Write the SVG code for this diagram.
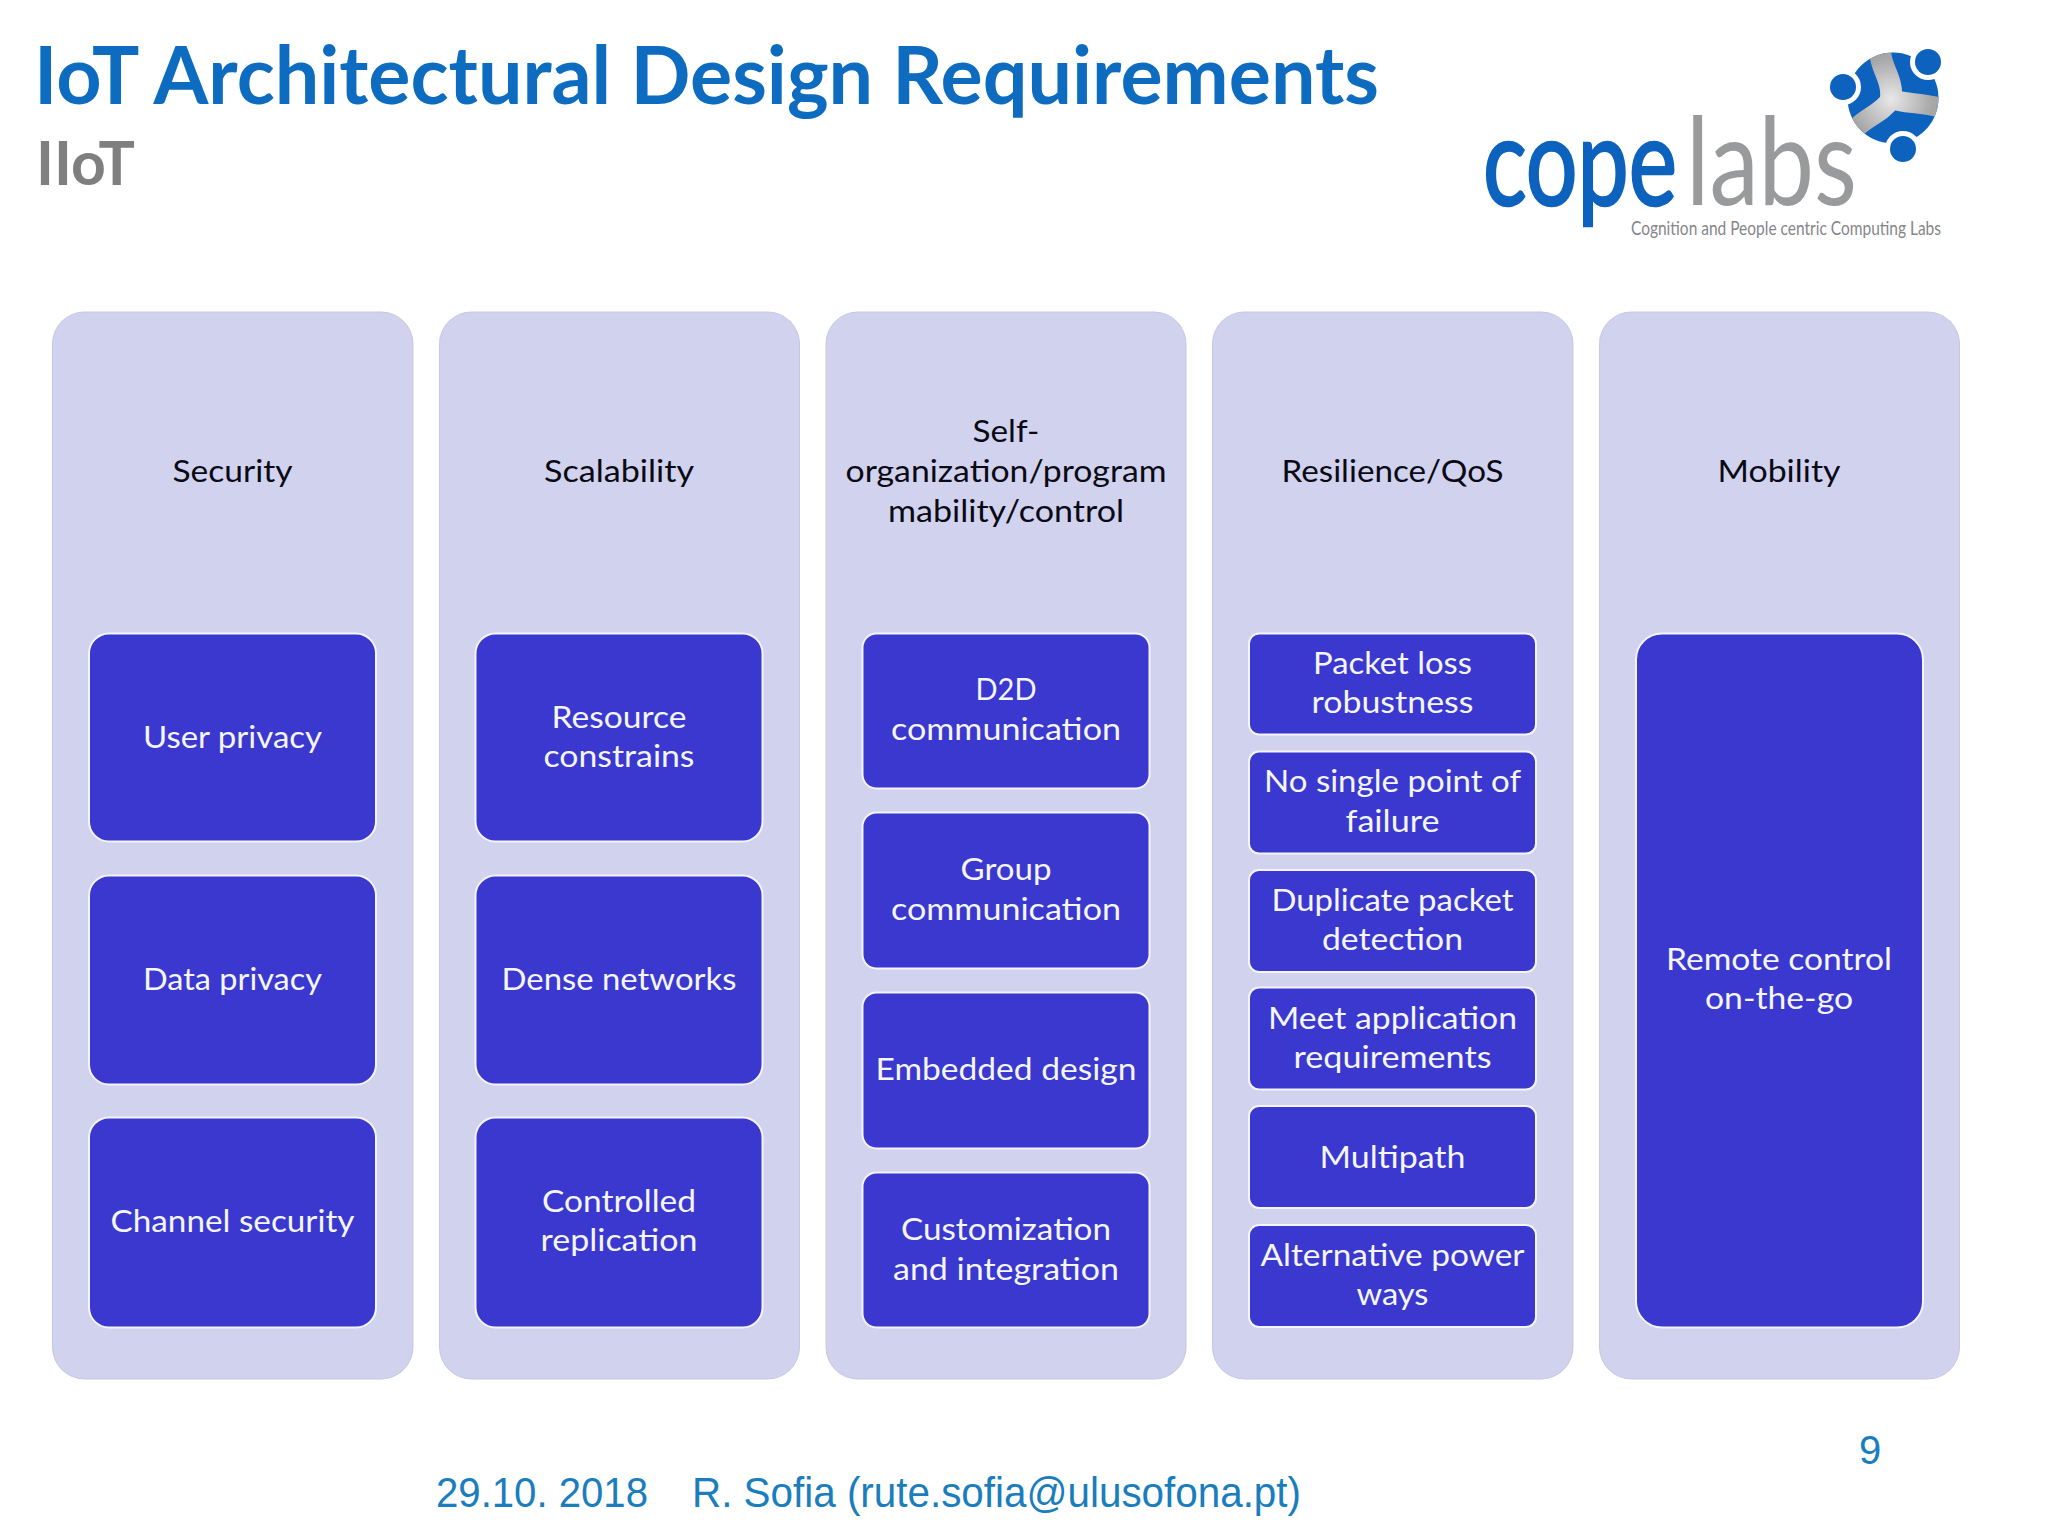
<svg xmlns="http://www.w3.org/2000/svg" width="2048" height="1536" viewBox="0 0 2048 1536">
<style>
text{font-family:"Lato","Open Sans","Liberation Sans",sans-serif;text-anchor:middle}
.col{fill:#d1d2ee;stroke:#c6c7e4;stroke-width:1}
.box{fill:#3a38cf;stroke:#f4f4fc;stroke-width:2}
.h{font-size:31px;fill:#0a0a14}
.t{font-size:31px;fill:#f4f5fd}
.foot{font-family:"Liberation Sans",Arial,sans-serif;fill:#1a7dbd;text-anchor:start}
</style>
<defs>
<radialGradient id="steel" gradientUnits="userSpaceOnUse" cx="1891" cy="99" r="42">
<stop offset="0" stop-color="#e8e8e8"/><stop offset="1" stop-color="#a6a6a6"/>
</radialGradient>
<clipPath id="disc"><circle cx="1893" cy="98" r="45.5"/></clipPath>
</defs>
<rect width="2048" height="1536" fill="#ffffff"/>
<g id="title">
<text x="34" y="104" style="text-anchor:start;font-weight:700;font-size:80px;fill:#0e6cc0" textLength="1345" lengthAdjust="spacingAndGlyphs">IoT Architectural Design Requirements</text>
<text x="36" y="185" style="text-anchor:start;font-weight:700;font-size:62px;fill:#7f7f7f" textLength="99" lengthAdjust="spacingAndGlyphs">IIoT</text>
</g>
<g id="logo">
<circle cx="1893" cy="98" r="45.5" fill="#0c62bd"/>
<g clip-path="url(#disc)" fill="none" stroke="url(#steel)" stroke-linecap="butt">
<path d="M1880 50C1880 68 1893 78 1891 99" stroke-width="22"/>
<path d="M1891 99C1905 104 1920 102 1942 108" stroke-width="20"/>
<path d="M1891 99C1882 114 1866 116 1852 132" stroke-width="20"/>
</g>
<circle cx="1843" cy="87" r="18" fill="#fff"/>
<circle cx="1928" cy="62" r="18" fill="#fff"/>
<circle cx="1903" cy="149" r="18" fill="#fff"/>
<circle cx="1843" cy="87" r="13" fill="#0c62bd"/>
<circle cx="1928" cy="62" r="13" fill="#0c62bd"/>
<circle cx="1903" cy="149" r="13" fill="#0c62bd"/>
<text x="1483" y="205" style="text-anchor:start;font-size:122px;font-weight:400;fill:#0c62bd;stroke:#0c62bd;stroke-width:2.5" textLength="194" lengthAdjust="spacingAndGlyphs">cope</text>
<text x="1686" y="205" style="text-anchor:start;font-size:122px;font-weight:400;fill:#999a9c" textLength="171" lengthAdjust="spacingAndGlyphs">labs</text>
<text x="1786" y="235" style="font-size:20px;fill:#85868a" textLength="310" lengthAdjust="spacingAndGlyphs">Cognition and People centric Computing Labs</text>
</g>
<g id="connectors"/>
<g id="col-security">
<rect class="col" x="52.5" y="312" width="360.5" height="1067" rx="32"/>
<text class="h" x="232.5" y="482" textLength="120" lengthAdjust="spacingAndGlyphs">Security</text>
</g>
<g id="node-user-privacy"><rect class="box" x="89" y="633.5" width="287" height="208" rx="20"/><text class="t" x="232.5" y="748" textLength="179" lengthAdjust="spacingAndGlyphs">User privacy</text></g>
<g id="node-data-privacy"><rect class="box" x="89" y="875.5" width="287" height="209" rx="20"/><text class="t" x="232.5" y="990" textLength="179" lengthAdjust="spacingAndGlyphs">Data privacy</text></g>
<g id="node-channel-security"><rect class="box" x="89" y="1117.5" width="287" height="210" rx="20"/><text class="t" x="232.5" y="1232" textLength="244" lengthAdjust="spacingAndGlyphs">Channel security</text></g>
<g id="col-scalability">
<rect class="col" x="439.5" y="312" width="360" height="1067" rx="32"/>
<text class="h" x="619" y="482" textLength="150" lengthAdjust="spacingAndGlyphs">Scalability</text>
</g>
<g id="node-resource"><rect class="box" x="475.5" y="633.5" width="287" height="208" rx="20"/><text class="t" x="619" y="728" textLength="135" lengthAdjust="spacingAndGlyphs">Resource</text><text class="t" x="619" y="767" textLength="151" lengthAdjust="spacingAndGlyphs">constrains</text></g>
<g id="node-dense"><rect class="box" x="475.5" y="875.5" width="287" height="209" rx="20"/><text class="t" x="619" y="990" textLength="235" lengthAdjust="spacingAndGlyphs">Dense networks</text></g>
<g id="node-controlled"><rect class="box" x="475.5" y="1117.5" width="287" height="210" rx="20"/><text class="t" x="619" y="1212" textLength="154" lengthAdjust="spacingAndGlyphs">Controlled</text><text class="t" x="619" y="1251" textLength="157" lengthAdjust="spacingAndGlyphs">replication</text></g>
<g id="col-self-org">
<rect class="col" x="826" y="312" width="360" height="1067" rx="32"/>
<text class="h" x="1006" y="442" textLength="67" lengthAdjust="spacingAndGlyphs">Self-</text>
<text class="h" x="1006" y="482" textLength="321" lengthAdjust="spacingAndGlyphs">organization/program</text>
<text class="h" x="1006" y="522" textLength="236" lengthAdjust="spacingAndGlyphs">mability/control</text>
</g>
<g id="node-d2d"><rect class="box" x="862.5" y="633.5" width="287" height="155" rx="14"/><text class="t" x="1006" y="700" textLength="61" lengthAdjust="spacingAndGlyphs">D2D</text><text class="t" x="1006" y="740" textLength="230" lengthAdjust="spacingAndGlyphs">communication</text></g>
<g id="node-group"><rect class="box" x="862.5" y="812.5" width="287" height="156" rx="14"/><text class="t" x="1006" y="880" textLength="91" lengthAdjust="spacingAndGlyphs">Group</text><text class="t" x="1006" y="920" textLength="230" lengthAdjust="spacingAndGlyphs">communication</text></g>
<g id="node-embedded"><rect class="box" x="862.5" y="992.5" width="287" height="156" rx="14"/><text class="t" x="1006" y="1080" textLength="261" lengthAdjust="spacingAndGlyphs">Embedded design</text></g>
<g id="node-customization"><rect class="box" x="862.5" y="1172.5" width="287" height="155" rx="14"/><text class="t" x="1006" y="1240" textLength="210" lengthAdjust="spacingAndGlyphs">Customization</text><text class="t" x="1006" y="1280" textLength="226" lengthAdjust="spacingAndGlyphs">and integration</text></g>
<g id="col-resilience">
<rect class="col" x="1212.5" y="312" width="360.5" height="1067" rx="32"/>
<text class="h" x="1392.5" y="482" textLength="222" lengthAdjust="spacingAndGlyphs">Resilience/QoS</text>
</g>
<g id="node-packet-loss"><rect class="box" x="1249" y="633.5" width="287" height="101" rx="10"/><text class="t" x="1392.5" y="674" textLength="159" lengthAdjust="spacingAndGlyphs">Packet loss</text><text class="t" x="1392.5" y="713" textLength="162" lengthAdjust="spacingAndGlyphs">robustness</text></g>
<g id="node-no-spof"><rect class="box" x="1249" y="751.5" width="287" height="102" rx="10"/><text class="t" x="1392.5" y="792" textLength="257" lengthAdjust="spacingAndGlyphs">No single point of</text><text class="t" x="1392.5" y="832" textLength="94" lengthAdjust="spacingAndGlyphs">failure</text></g>
<g id="node-duplicate"><rect class="box" x="1249" y="870" width="287" height="102" rx="10"/><text class="t" x="1392.5" y="911" textLength="242" lengthAdjust="spacingAndGlyphs">Duplicate packet</text><text class="t" x="1392.5" y="950" textLength="141" lengthAdjust="spacingAndGlyphs">detection</text></g>
<g id="node-meet"><rect class="box" x="1249" y="987.5" width="287" height="102" rx="10"/><text class="t" x="1392.5" y="1029" textLength="249" lengthAdjust="spacingAndGlyphs">Meet application</text><text class="t" x="1392.5" y="1068" textLength="198" lengthAdjust="spacingAndGlyphs">requirements</text></g>
<g id="node-multipath"><rect class="box" x="1249" y="1106" width="287" height="102" rx="10"/><text class="t" x="1392.5" y="1168" textLength="146" lengthAdjust="spacingAndGlyphs">Multipath</text></g>
<g id="node-alt-power"><rect class="box" x="1249" y="1225" width="287" height="102" rx="10"/><text class="t" x="1392.5" y="1266" textLength="264" lengthAdjust="spacingAndGlyphs">Alternative power</text><text class="t" x="1392.5" y="1305" textLength="72" lengthAdjust="spacingAndGlyphs">ways</text></g>
<g id="col-mobility">
<rect class="col" x="1599.5" y="312" width="360" height="1067" rx="32"/>
<text class="h" x="1779" y="482" textLength="123" lengthAdjust="spacingAndGlyphs">Mobility</text>
</g>
<g id="node-remote"><rect class="box" x="1636" y="633.5" width="287" height="694" rx="26"/><text class="t" x="1779" y="970" textLength="226" lengthAdjust="spacingAndGlyphs">Remote control</text><text class="t" x="1779" y="1009" textLength="148" lengthAdjust="spacingAndGlyphs">on-the-go</text></g>
<g id="footer">
<text class="foot" x="436" y="1507" font-size="43" textLength="212" lengthAdjust="spacingAndGlyphs">29.10. 2018</text>
<text class="foot" x="692" y="1507" font-size="43" textLength="609" lengthAdjust="spacingAndGlyphs">R. Sofia (rute.sofia@ulusofona.pt)</text>
<text class="foot" x="1859" y="1464" font-size="40" fill="#1a6fa8">9</text>
</g>
</svg>
